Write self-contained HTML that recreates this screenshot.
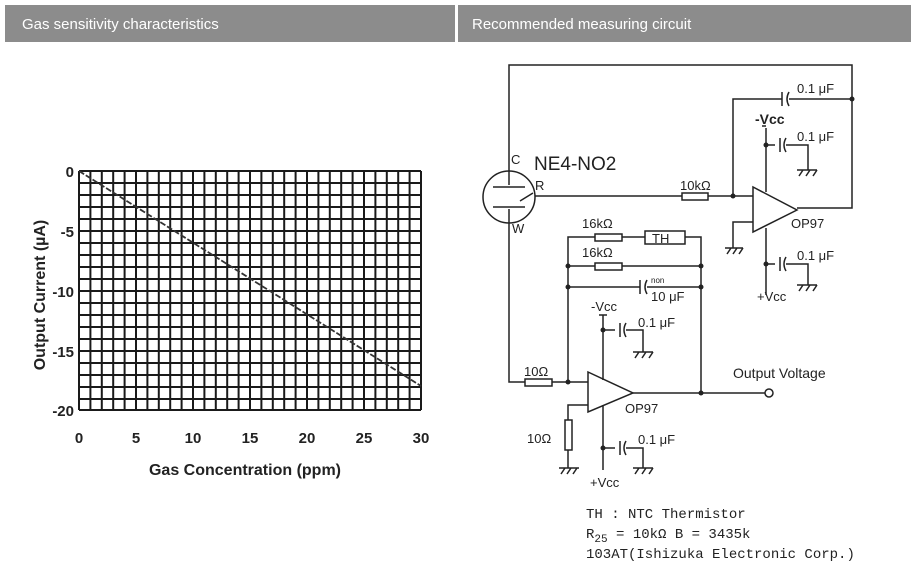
<!DOCTYPE html>
<html><head><meta charset="utf-8"><style>
html,body{margin:0;padding:0;background:#fff;width:911px;height:569px;overflow:hidden}
</style></head><body>
<svg width="911" height="569" xmlns="http://www.w3.org/2000/svg" font-family="Liberation Sans, Arial, sans-serif">
<rect x="5" y="5" width="450" height="37" fill="#8c8c8c"/>
<rect x="458" y="5" width="453" height="37" fill="#8c8c8c"/>
<text x="22" y="29" fill="#fff" font-size="15">Gas sensitivity characteristics</text>
<text x="472" y="29" fill="#fff" font-size="15">Recommended measuring circuit</text>

<g stroke="#1a1a1a" stroke-width="2">
<path d="M79,171V410 M90.4,171V410 M101.8,171V410 M113.2,171V410 M124.6,171V410 M136,171V410 M147.4,171V410 M158.8,171V410 M170.2,171V410 M181.6,171V410 M193,171V410 M204.4,171V410 M215.8,171V410 M227.2,171V410 M238.6,171V410 M250,171V410 M261.4,171V410 M272.8,171V410 M284.2,171V410 M295.6,171V410 M307,171V410 M318.4,171V410 M329.8,171V410 M341.2,171V410 M352.6,171V410 M364,171V410 M375.4,171V410 M386.8,171V410 M398.2,171V410 M409.6,171V410 M421,171V410"/>
<path d="M79,171H421 M79,183H421 M79,195H421 M79,207H421 M79,219H421 M79,231H421 M79,243H421 M79,255H421 M79,267H421 M79,279H421 M79,291H421 M79,303H421 M79,315H421 M79,327H421 M79,339H421 M79,351H421 M79,363H421 M79,375H421 M79,387H421 M79,399H421 M79,410H421"/>
</g>
<line x1="79" y1="171" x2="421" y2="386" stroke="#333" stroke-width="1.8" stroke-dasharray="6,2"/>
<g font-size="15" font-weight="bold" fill="#222">
<text x="74" y="177" text-anchor="end">0</text>
<text x="74" y="237" text-anchor="end">-5</text>
<text x="74" y="297" text-anchor="end">-10</text>
<text x="74" y="357" text-anchor="end">-15</text>
<text x="74" y="416" text-anchor="end">-20</text>
<text x="79" y="443" text-anchor="middle">0</text>
<text x="136" y="443" text-anchor="middle">5</text>
<text x="193" y="443" text-anchor="middle">10</text>
<text x="250" y="443" text-anchor="middle">15</text>
<text x="307" y="443" text-anchor="middle">20</text>
<text x="364" y="443" text-anchor="middle">25</text>
<text x="421" y="443" text-anchor="middle">30</text>
<text x="245" y="475" text-anchor="middle" font-size="16">Gas Concentration (ppm)</text>
<text transform="translate(45,295) rotate(-90)" text-anchor="middle" font-size="16">Output Current (µA)</text>
</g>

<g stroke="#222" stroke-width="1.5" fill="none">
<path d="M509,172V65H852V208H797"/>
<circle cx="509" cy="197" r="26"/>
<path d="M509,172V185 M493,187H525 M493,207H525 M509,209V222 M520,201L533,193"/>
<path d="M535,196H682 M708,196H753"/>
<rect x="682" y="193" width="26" height="7"/>
<path d="M733,196V99H782 M789,99H852"/>
<path d="M782,92V106 M789,92Q785,99 789,106"/>
<path d="M753,187V232L797,210Z"/>
<path d="M753,222H733V248 M725,248H743 M727,254L731,248 M733,254L737,248 M739,254L743,248"/>
<path d="M766,128V192 M766,126H762 M766,145H775 M780,138V152 M786,138Q782,145 786,152 M786,145H808V170 M797,170H817 M799,176L803,170 M806,176L810,170 M813,176L817,170"/>
<path d="M766,228V295 M766,264H775 M780,257V271 M786,257Q782,264 786,271 M786,264H808V285 M797,285H817 M799,291L803,285 M806,291L810,285 M813,291L817,285"/>
<path d="M509,222V382H525 M552,382H588"/>
<rect x="525" y="379" width="27" height="7"/>
<path d="M568,382V237H595 M622,237H645 M685,237H701V393 M568,266H595 M622,266H701 M568,287H640 M647,287H701"/>
<rect x="595" y="234" width="27" height="7"/>
<rect x="645" y="231" width="40" height="13"/>
<rect x="595" y="263" width="27" height="7"/>
<path d="M640,280V294 M647,280Q643,287 647,294"/>
<path d="M588,372V412L633,393Z"/>
<path d="M633,393H765"/>
<circle cx="769" cy="393" r="4"/>
<path d="M588,405H568V420 M568,450V468 M559,468H579 M561,474L565,468 M567,474L571,468 M573,474L577,468"/>
<rect x="565" y="420" width="7" height="30"/>
<path d="M603,315V380 M599,315H607 M603,330H615 M620,323V337 M626,323Q622,330 626,337 M626,330H643V352 M633,352H653 M635,358L639,352 M642,358L646,352 M649,358L653,352"/>
<path d="M603,405V470 M603,448H615 M620,441V455 M626,441Q622,448 626,455 M626,448H643V468 M633,468H653 M635,474L639,468 M642,474L646,468 M649,474L653,468"/>
</g>
<g fill="#222">
<circle cx="733" cy="196" r="2.5"/><circle cx="852" cy="99" r="2.5"/>
<circle cx="766" cy="145" r="2.5"/><circle cx="766" cy="264" r="2.5"/>
<circle cx="568" cy="382" r="2.5"/><circle cx="701" cy="393" r="2.5"/>
<circle cx="568" cy="266" r="2.5"/><circle cx="701" cy="266" r="2.5"/>
<circle cx="568" cy="287" r="2.5"/><circle cx="701" cy="287" r="2.5"/>
<circle cx="603" cy="330" r="2.5"/><circle cx="603" cy="448" r="2.5"/>
</g>
<g fill="#222" font-size="13">
<text x="511" y="164">C</text>
<text x="535" y="190">R</text>
<text x="512" y="233">W</text>
<text x="534" y="170" font-size="19">NE4-NO2</text>
<text x="680" y="190">10kΩ</text>
<text x="797" y="93">0.1 μF</text>
<text x="755" y="124" font-weight="bold" font-size="14">-Vcc</text>
<text x="797" y="141">0.1 μF</text>
<text x="791" y="228">OP97</text>
<text x="797" y="260">0.1 μF</text>
<text x="757" y="301">+Vcc</text>
<text x="582" y="228">16kΩ</text>
<text x="582" y="257">16kΩ</text>
<text x="652" y="243">TH</text>
<text x="651" y="301">10 μF</text>
<text x="651" y="283" font-size="8">non</text>
<text x="591" y="311">-Vcc</text>
<text x="638" y="327">0.1 μF</text>
<text x="524" y="376">10Ω</text>
<text x="625" y="413">OP97</text>
<text x="733" y="378" font-size="14">Output Voltage</text>
<text x="527" y="443">10Ω</text>
<text x="638" y="444">0.1 μF</text>
<text x="590" y="487">+Vcc</text>
</g>
<g fill="#222" font-size="14" font-family="Liberation Mono, monospace">
<text x="586" y="518">TH : NTC Thermistor</text>
<text x="586" y="538">R<tspan font-size="11" dy="4">25</tspan><tspan dy="-4"> = 10kΩ  B = 3435k</tspan></text>
<text x="586" y="558">103AT(Ishizuka Electronic  Corp.)</text>
</g>
</svg>
</body></html>
